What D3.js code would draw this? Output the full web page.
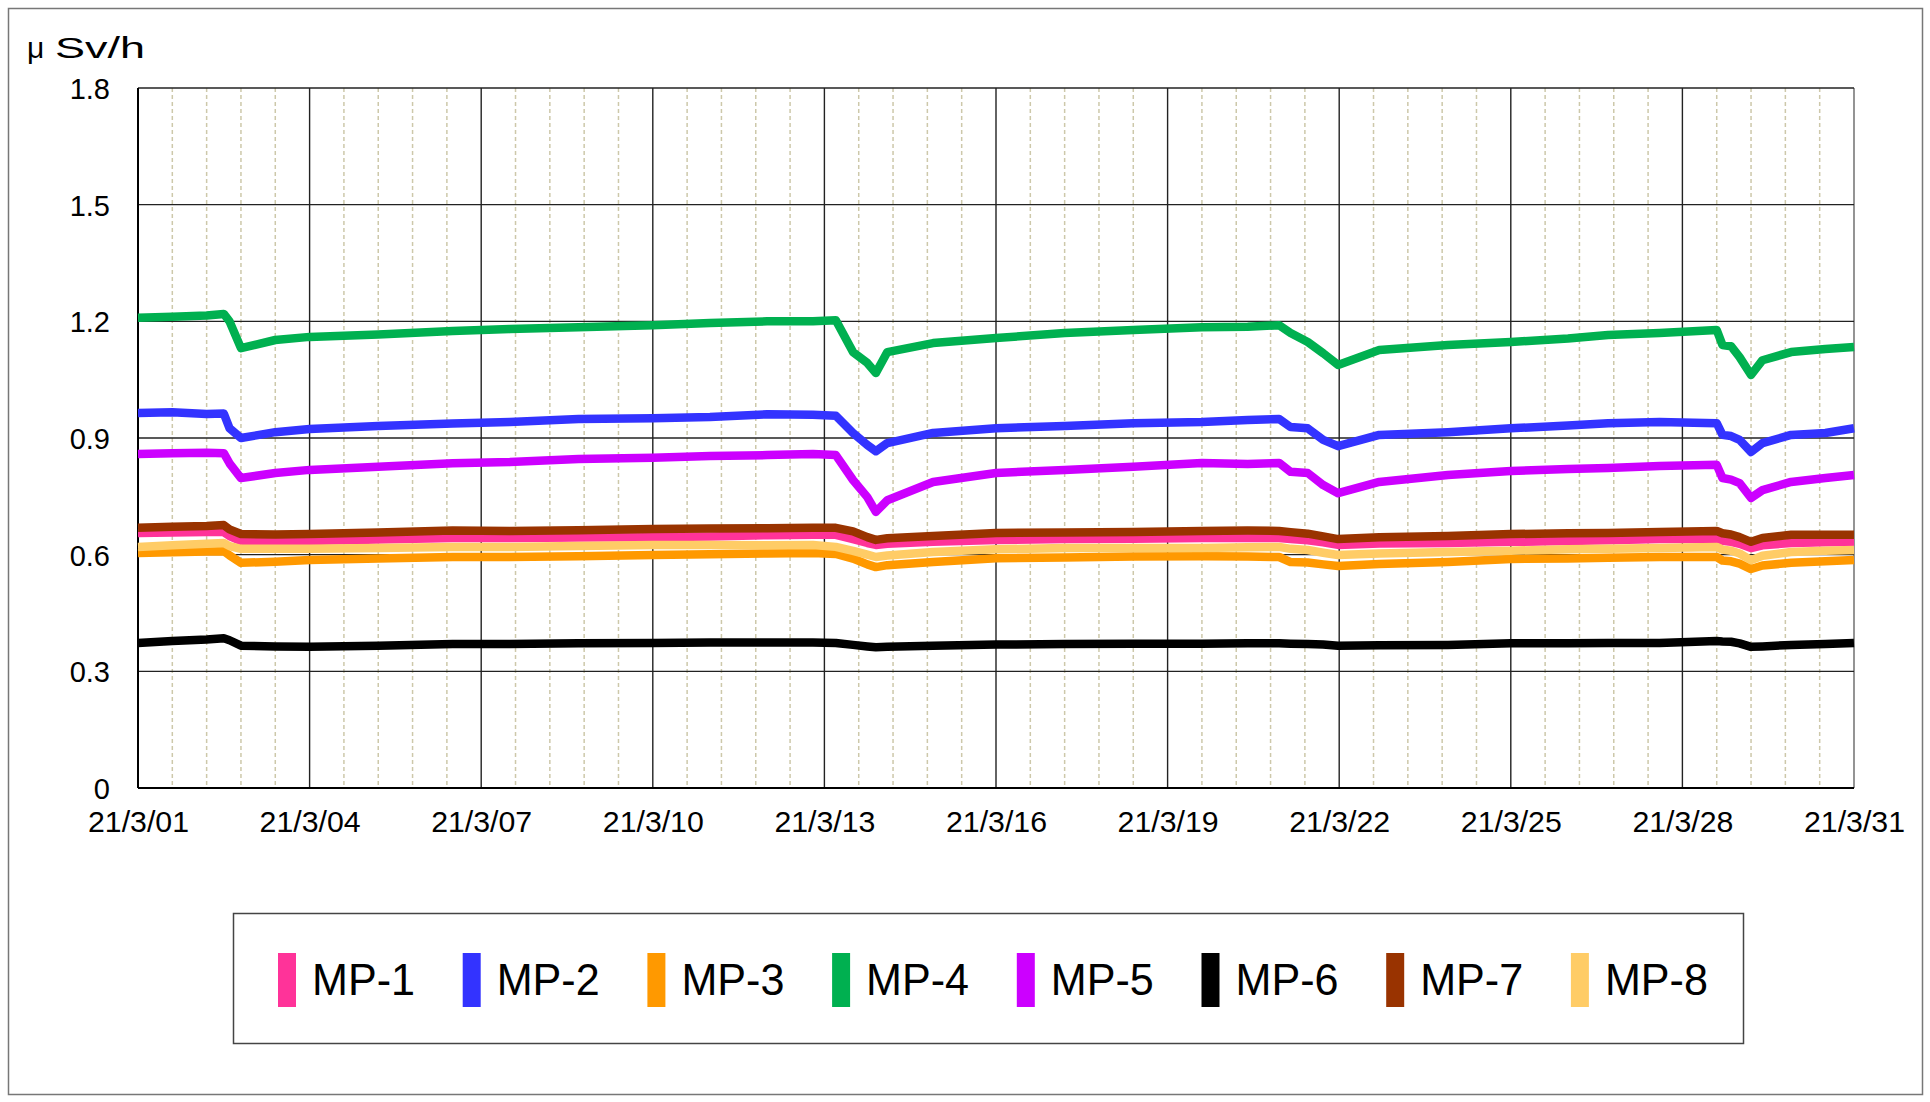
<!DOCTYPE html>
<html>
<head>
<meta charset="utf-8">
<script src="https://cdn.jsdelivr.net/npm/d3@7/dist/d3.min.js"></script>
<style>
  body { margin: 0; background: #fff; }
  svg { display: block; font-family: "Liberation Sans", Arial, sans-serif; }
</style>
</head>
<body>
<div class="chart"></div>
<script>
// Time of each reading, in days since 21/3/01 00:00
const days = [0, 0.6, 1.2, 1.5, 1.6, 1.8, 2.4, 3, 4.2, 5.5, 6.5, 7.7, 9, 10, 11, 11.8,
    12.2, 12.5, 12.75, 12.9, 13.1, 13.9, 15, 16.2, 17.4, 18.6, 19.4, 19.95, 20.15, 20.45,
    20.72, 20.98, 21.7, 22.9, 24, 25, 25.7, 26.6, 27.6, 27.7, 27.85, 28.0, 28.2, 28.4,
    28.9, 29.5, 30];

// Dose rate readings (μSv/h) per monitoring post
const mp1 = [0.656, 0.657, 0.658, 0.658, 0.648, 0.635, 0.635, 0.635, 0.639, 0.643, 0.643, 0.644,
    0.645, 0.647, 0.650, 0.651, 0.651, 0.640, 0.630, 0.625, 0.628, 0.633, 0.638, 0.640, 0.641,
    0.643, 0.643, 0.643, 0.640, 0.637, 0.632, 0.625, 0.629, 0.630, 0.633, 0.635, 0.637, 0.640,
    0.640, 0.636, 0.633, 0.628, 0.617, 0.624, 0.630, 0.632, 0.633];
const mp2 = [0.964, 0.966, 0.962, 0.963, 0.925, 0.900, 0.915, 0.923, 0.931, 0.937, 0.941, 0.949,
    0.951, 0.954, 0.961, 0.960, 0.957, 0.913, 0.882, 0.866, 0.887, 0.913, 0.925, 0.931, 0.938,
    0.941, 0.946, 0.949, 0.928, 0.925, 0.895, 0.879, 0.908, 0.915, 0.925, 0.932, 0.938, 0.941,
    0.938, 0.908, 0.905, 0.895, 0.864, 0.887, 0.908, 0.913, 0.925];
const mp3 = [0.604, 0.606, 0.608, 0.609, 0.598, 0.579, 0.582, 0.586, 0.590, 0.594, 0.594, 0.596,
    0.599, 0.601, 0.603, 0.604, 0.602, 0.590, 0.575, 0.568, 0.573, 0.581, 0.591, 0.593, 0.595,
    0.596, 0.595, 0.594, 0.581, 0.580, 0.575, 0.571, 0.576, 0.581, 0.589, 0.590, 0.592, 0.594,
    0.594, 0.585, 0.583, 0.577, 0.563, 0.572, 0.579, 0.583, 0.586];
const mp4 = [1.209, 1.212, 1.215, 1.219, 1.200, 1.131, 1.152, 1.160, 1.166, 1.175, 1.180, 1.185,
    1.190, 1.196, 1.200, 1.200, 1.203, 1.121, 1.093, 1.067, 1.121, 1.144, 1.157, 1.170, 1.178,
    1.185, 1.186, 1.190, 1.170, 1.147, 1.118, 1.088, 1.126, 1.139, 1.147, 1.156, 1.165, 1.170,
    1.178, 1.139, 1.136, 1.108, 1.062, 1.100, 1.121, 1.129, 1.134];
const mp5 = [0.859, 0.861, 0.862, 0.861, 0.835, 0.797, 0.810, 0.818, 0.826, 0.835, 0.838, 0.846,
    0.849, 0.854, 0.856, 0.859, 0.856, 0.792, 0.748, 0.710, 0.740, 0.787, 0.810, 0.818, 0.826,
    0.836, 0.833, 0.836, 0.813, 0.810, 0.779, 0.758, 0.787, 0.805, 0.815, 0.820, 0.823, 0.828,
    0.831, 0.797, 0.793, 0.784, 0.746, 0.766, 0.787, 0.797, 0.805];
const mp6 = [0.373, 0.378, 0.382, 0.385, 0.380, 0.366, 0.364, 0.363, 0.366, 0.370, 0.370, 0.372,
    0.373, 0.374, 0.374, 0.374, 0.373, 0.368, 0.364, 0.362, 0.363, 0.366, 0.369, 0.370, 0.371,
    0.371, 0.372, 0.372, 0.371, 0.370, 0.369, 0.366, 0.367, 0.368, 0.372, 0.372, 0.373, 0.373,
    0.378, 0.377, 0.376, 0.372, 0.363, 0.364, 0.368, 0.370, 0.373];
const mp7 = [0.669, 0.672, 0.674, 0.676, 0.665, 0.653, 0.652, 0.653, 0.657, 0.662, 0.661, 0.663,
    0.666, 0.667, 0.668, 0.669, 0.669, 0.660, 0.645, 0.638, 0.642, 0.648, 0.656, 0.657, 0.658,
    0.661, 0.662, 0.661, 0.658, 0.654, 0.647, 0.640, 0.645, 0.648, 0.653, 0.655, 0.656, 0.658,
    0.661, 0.655, 0.652, 0.645, 0.633, 0.643, 0.651, 0.651, 0.651];
const mp8 = [0.620, 0.624, 0.628, 0.630, 0.622, 0.615, 0.615, 0.615, 0.617, 0.620, 0.620, 0.622,
    0.625, 0.625, 0.624, 0.625, 0.620, 0.610, 0.600, 0.594, 0.598, 0.607, 0.614, 0.617, 0.617,
    0.617, 0.619, 0.620, 0.615, 0.612, 0.605, 0.599, 0.603, 0.607, 0.610, 0.614, 0.615, 0.617,
    0.620, 0.613, 0.610, 0.603, 0.586, 0.597, 0.607, 0.610, 0.612];

const seriesNames = ['MP-1', 'MP-2', 'MP-3', 'MP-4', 'MP-5', 'MP-6', 'MP-7', 'MP-8'];
const seriesValues = [mp1, mp2, mp3, mp4, mp5, mp6, mp7, mp8];
const seriesColors = ['#ff3399', '#3333ff', '#ff9900', '#00b050', '#cc00ff', '#000000', '#993300', '#ffcc66'];

const xTickLabels = ['21/3/01', '21/3/04', '21/3/07', '21/3/10', '21/3/13', '21/3/16',
    '21/3/19', '21/3/22', '21/3/25', '21/3/28', '21/3/31'];
const yTicks = [0, 0.3, 0.6, 0.9, 1.2, 1.5, 1.8];
const yTickLabels = ['0', '0.3', '0.6', '0.9', '1.2', '1.5', '1.8'];

const width = 1930;
const height = 1102;
const plot = { left: 138, right: 1854, top: 88, bottom: 788 };

const svg = d3.select('.chart').append('svg')
    .attr('width', width)
    .attr('height', height);

// cadre extérieur
svg.append('rect')
    .attr('x', 8.5).attr('y', 8.5)
    .attr('width', 1914).attr('height', 1086)
    .attr('fill', '#fff')
    .attr('stroke', '#777')
    .attr('stroke-width', 1.5);

const x = d3.scaleLinear().domain([0, 30]).range([plot.left, plot.right]);
const y = d3.scaleLinear().domain([0, 1.8]).range([plot.bottom, plot.top]);

const majorDays = d3.range(0, 31, 3);
const minorDays = d3.range(0, 30.001, 0.6).filter(d => Math.abs(d / 3 - Math.round(d / 3)) > 0.01);

// grille secondaire (pointillés)
svg.append('g')
    .selectAll('line')
    .data(minorDays)
    .join('line')
    .attr('x1', d => x(d)).attr('x2', d => x(d))
    .attr('y1', plot.top).attr('y2', plot.bottom)
    .attr('stroke', '#cdc8aa')
    .attr('stroke-width', 1.5)
    .attr('stroke-dasharray', '4,3');

// grille principale
svg.append('g')
    .selectAll('line')
    .data(majorDays)
    .join('line')
    .attr('x1', d => x(d)).attr('x2', d => x(d))
    .attr('y1', plot.top).attr('y2', plot.bottom)
    .attr('stroke', d => d === 30 ? '#666' : '#222')
    .attr('stroke-width', 1.4);

svg.append('g')
    .selectAll('line')
    .data(yTicks)
    .join('line')
    .attr('x1', plot.left).attr('x2', plot.right)
    .attr('y1', d => y(d)).attr('y2', d => y(d))
    .attr('stroke', '#222')
    .attr('stroke-width', 1.4);

// axes
const xAxis = svg.append('g')
    .attr('transform', `translate(0,${plot.bottom})`)
    .call(d3.axisBottom(x).tickValues(majorDays).tickSize(0).tickPadding(0)
        .tickFormat((d, i) => xTickLabels[i]));
xAxis.select('.domain').remove();
xAxis.selectAll('text')
    .attr('y', 44)
    .attr('dy', null)
    .attr('fill', '#000')
    .attr('font-size', 29)
    .attr('font-family', '"Liberation Sans", Arial, sans-serif')
    .attr('textLength', 101)
    .attr('lengthAdjust', 'spacingAndGlyphs');

const yAxis = svg.append('g')
    .attr('transform', `translate(${plot.left},0)`)
    .call(d3.axisLeft(y).tickValues(yTicks).tickSize(0).tickPadding(28)
        .tickFormat((d, i) => yTickLabels[i]));
yAxis.select('.domain').remove();
yAxis.selectAll('text')
    .attr('dy', '0.36em')
    .attr('fill', '#000')
    .attr('font-size', 29)
    .attr('font-family', '"Liberation Sans", Arial, sans-serif');

svg.append('line')
    .attr('x1', plot.left).attr('x2', plot.left)
    .attr('y1', plot.top).attr('y2', plot.bottom)
    .attr('stroke', '#000').attr('stroke-width', 2);
svg.append('line')
    .attr('x1', plot.left).attr('x2', plot.right)
    .attr('y1', plot.bottom).attr('y2', plot.bottom)
    .attr('stroke', '#000').attr('stroke-width', 2);

// unité
const unit = svg.append('text')
    .attr('y', 58)
    .attr('font-size', 30);
unit.append('tspan').attr('x', 27).text('μ');
unit.append('tspan')
    .attr('x', 55)
    .attr('textLength', 90)
    .attr('lengthAdjust', 'spacingAndGlyphs')
    .text('Sv/h');

// séries
const line = d3.line()
    .x((d, i) => x(days[i]))
    .y(d => y(d));

svg.append('g')
    .selectAll('path')
    .data(seriesValues)
    .join('path')
    .attr('d', d => line(d))
    .attr('fill', 'none')
    .attr('stroke', (d, i) => seriesColors[i])
    .attr('stroke-width', 8.5)
    .attr('stroke-linejoin', 'round');

// légende
const legend = svg.append('g');
legend.append('rect')
    .attr('x', 233.5).attr('y', 913.5)
    .attr('width', 1510).attr('height', 130)
    .attr('fill', '#fff')
    .attr('stroke', '#444')
    .attr('stroke-width', 1.5);

const legendItems = legend.selectAll('g.item')
    .data(seriesNames)
    .join('g')
    .attr('class', 'item')
    .attr('transform', (d, i) => `translate(${278 + i * 184.7},0)`);

legendItems.append('rect')
    .attr('x', 0).attr('y', 953)
    .attr('width', 18).attr('height', 54)
    .attr('fill', (d, i) => seriesColors[i]);

legendItems.append('text')
    .attr('x', 34).attr('y', 995)
    .attr('font-size', 45)
    .attr('textLength', 103)
    .attr('lengthAdjust', 'spacingAndGlyphs')
    .text(d => d);
</script>
</body>
</html>
